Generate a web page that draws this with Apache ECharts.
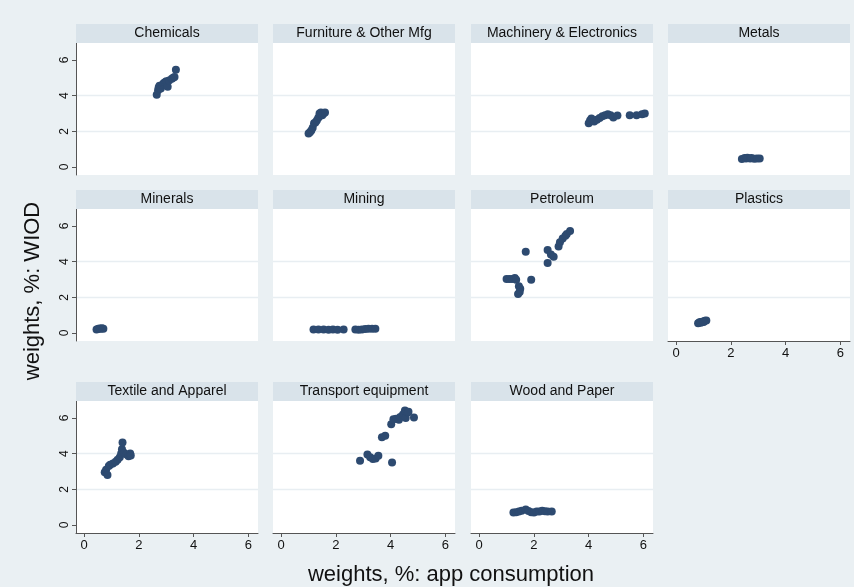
<!DOCTYPE html>
<html>
<head>
<meta charset="utf-8">
<script src="https://cdn.jsdelivr.net/npm/echarts@6/dist/echarts.min.js"></script>
<style>
  html, body { margin: 0; padding: 0; background: #eaf0f3; }
  #chart { width: 854px; height: 587px; }
</style>
</head>
<body>
<div id="chart"></div>
<script>
// 各面板名称
const panelNames = [
  'Chemicals', 'Furniture & Other Mfg', 'Machinery & Electronics', 'Metals',
  'Minerals', 'Mining', 'Petroleum', 'Plastics',
  'Textile and Apparel', 'Transport equipment', 'Wood and Paper'
];

// 数据: [app consumption, WIOD]
const chemicals = [[2.65,4.05],[2.7,4.3],[2.72,4.45],[2.75,4.55],[2.8,4.4],[2.85,4.6],[2.9,4.7],[2.95,4.75],[3.0,4.8],[3.05,4.5],[3.1,4.85],[3.2,4.95],[3.25,5.0],[3.3,5.05],[3.35,5.45]];
const furniture = [[1.0,1.88],[1.05,1.95],[1.1,2.05],[1.15,2.2],[1.2,2.45],[1.25,2.5],[1.3,2.6],[1.35,2.75],[1.4,2.85],[1.4,3.0],[1.45,3.05],[1.5,2.9],[1.55,3.0],[1.6,3.05]];
const machinery = [[4.0,2.45],[4.05,2.6],[4.1,2.72],[4.2,2.55],[4.3,2.65],[4.4,2.75],[4.5,2.85],[4.6,2.9],[4.7,2.95],[4.8,2.9],[4.9,2.78],[5.05,2.88],[5.5,2.9],[5.75,2.9],[5.95,2.95],[6.05,3.0]];
const metals = [[2.4,0.45],[2.5,0.5],[2.55,0.48],[2.6,0.52],[2.7,0.47],[2.75,0.5],[2.85,0.46],[2.95,0.48],[3.05,0.47]];
const minerals = [[0.45,0.2],[0.5,0.22],[0.55,0.25],[0.6,0.23],[0.65,0.26],[0.7,0.24]];
const mining = [[1.18,0.2],[1.36,0.2],[1.55,0.2],[1.73,0.18],[1.89,0.2],[2.06,0.18],[2.28,0.2],[2.71,0.2],[2.83,0.18],[2.95,0.19],[3.07,0.22],[3.19,0.24],[3.32,0.24],[3.44,0.24]];
const petroleum = [[1.0,3.03],[1.1,3.03],[1.2,3.03],[1.3,3.08],[1.35,2.98],[1.45,2.62],[1.5,2.48],[1.48,2.3],[1.42,2.18],[1.7,4.55],[1.9,2.98],[2.5,4.65],[2.5,3.92],[2.62,4.4],[2.72,4.28],[2.9,4.85],[2.95,5.08],[3.05,5.3],[3.15,5.45],[3.2,5.55],[3.32,5.72]];
const plastics = [[0.8,0.55],[0.85,0.6],[0.9,0.62],[0.95,0.63],[1.0,0.65],[1.05,0.68],[1.1,0.7],[0.9,0.58],[1.0,0.62]];
const textile = [[0.75,2.95],[0.8,3.1],[0.85,2.8],[0.9,3.3],[0.95,3.38],[1.05,3.45],[1.15,3.55],[1.22,3.65],[1.3,3.8],[1.35,4.0],[1.38,4.25],[1.4,4.62],[1.45,4.05],[1.55,3.95],[1.62,3.85],[1.68,4.0],[1.7,3.9]];
const transport = [[2.88,3.6],[3.15,3.95],[3.25,3.8],[3.35,3.7],[3.45,3.72],[3.55,3.88],[4.05,3.5],[3.68,4.92],[3.8,5.0],[4.02,5.65],[4.1,5.92],[4.2,5.95],[4.3,5.9],[4.35,6.05],[4.45,6.2],[4.52,6.42],[4.55,6.0],[4.62,6.3],[4.65,6.35],[4.85,6.03]];
const wood = [[1.25,0.7],[1.35,0.72],[1.45,0.75],[1.55,0.8],[1.7,0.87],[1.8,0.78],[1.9,0.72],[2.0,0.7],[2.1,0.75],[2.2,0.76],[2.3,0.8],[2.4,0.77],[2.5,0.76],[2.65,0.75]];

const panelData = [chemicals, furniture, machinery, metals, minerals, mining, petroleum, plastics, textile, transport, wood];

const xTicks = [0, 2, 4, 6];
const yTicks = [0, 2, 4, 6];

(function() {
  const chart = echarts.init(document.getElementById('chart'));

  // 版面位置
  const colLeft = [76, 273, 471, 668];
  const rowTop = [43, 209, 401];
  const pw = 182, ph = 132, headH = 19;
  const navy = '#2d4a70';
  const axisColor = '#555';

  const grids = [], xAxes = [], yAxes = [], series = [], graphics = [];

  panelNames.forEach(function(name, i) {
    const col = i % 4, row = Math.floor(i / 4);
    const showX = row === 2 || i === 7;
    const showY = col === 0;

    grids.push({ left: colLeft[col], top: rowTop[row], width: pw, height: ph,
      show: true, backgroundColor: '#fff', borderWidth: 0 });

    xAxes.push({
      gridIndex: i, type: 'value', min: -0.3, max: 6.35,
      axisLine: { show: showX, onZero: false, lineStyle: { color: axisColor, width: 1 } },
      axisTick: { show: showX, length: 4, customValues: xTicks, lineStyle: { color: axisColor } },
      axisLabel: { show: showX, customValues: xTicks, color: '#111', fontSize: 13,
        fontFamily: 'Liberation Sans, Arial', margin: 6 },
      splitLine: { show: false }
    });

    yAxes.push({
      gridIndex: i, type: 'value', min: -0.45, max: 6.95, splitNumber: 4,
      axisLine: { show: showY, onZero: false, lineStyle: { color: axisColor, width: 1 } },
      axisTick: { show: showY, length: 4, customValues: yTicks, lineStyle: { color: axisColor } },
      axisLabel: { show: showY, customValues: yTicks, rotate: 90, color: '#111', fontSize: 12,
        fontFamily: 'Liberation Sans, Arial', margin: 5 },
      splitLine: { show: true, showMinLine: false, showMaxLine: false,
        lineStyle: { color: '#e8eef2', width: 1.3 } }
    });

    series.push({
      type: 'scatter', xAxisIndex: i, yAxisIndex: i, data: panelData[i],
      symbolSize: 8, itemStyle: { color: navy, opacity: 1 }, silent: true
    });

    // 面板标题条
    graphics.push({ type: 'rect', x: colLeft[col], y: rowTop[row] - headH, z: 10,
      shape: { width: pw, height: headH }, style: { fill: '#d9e3ea' } });
    graphics.push({ type: 'text', x: colLeft[col] + pw / 2, y: rowTop[row] - headH / 2, z: 11,
      style: { text: name, fill: '#111', font: '14px "Liberation Sans", Arial',
        textAlign: 'center', textVerticalAlign: 'middle' } });
  });

  // 坐标轴标题
  graphics.push({ type: 'text', x: 451, y: 575, z: 11,
    style: { text: 'weights, %: app consumption', fill: '#111', font: '22px "Liberation Sans", Arial',
      textAlign: 'center', textVerticalAlign: 'middle' } });
  graphics.push({ type: 'text', x: 33, y: 291, z: 11, rotation: Math.PI / 2,
    style: { text: 'weights, %: WIOD', fill: '#111', font: '22px "Liberation Sans", Arial',
      textAlign: 'center', textVerticalAlign: 'middle' } });

  chart.setOption({
    backgroundColor: '#eaf0f3',
    animation: false,
    grid: grids,
    xAxis: xAxes,
    yAxis: yAxes,
    series: series,
    graphic: graphics
  });
})();
</script>
</body>
</html>
